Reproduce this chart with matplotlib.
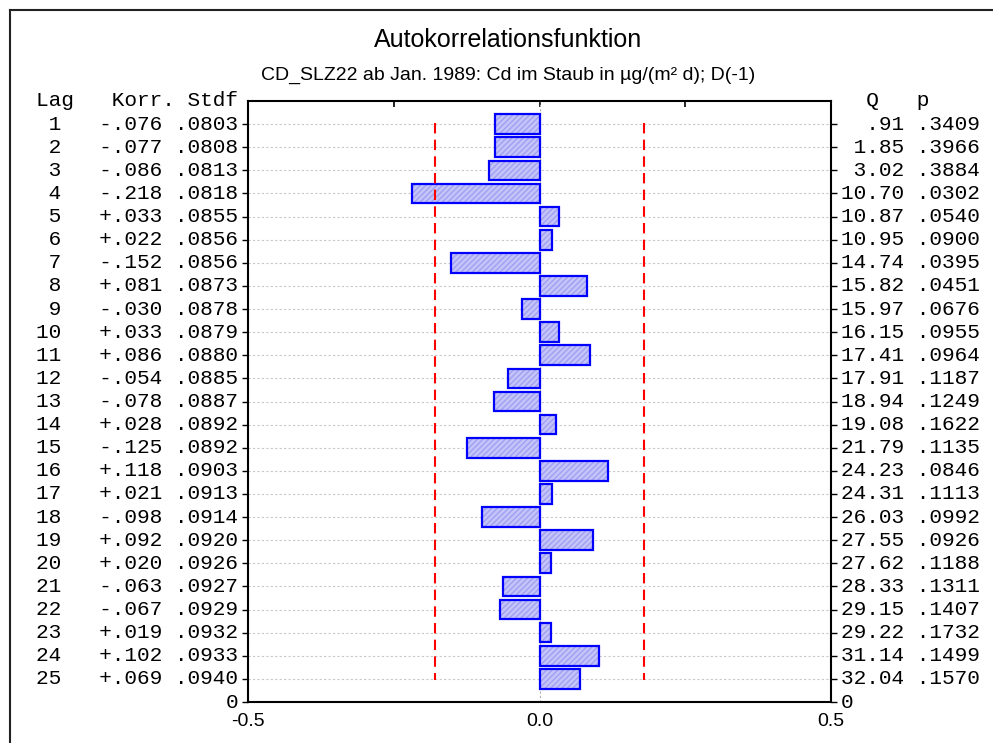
import matplotlib
matplotlib.use("Agg")
import matplotlib.pyplot as plt
from matplotlib.lines import Line2D
from matplotlib.transforms import blended_transform_factory

lags = list(range(1, 26))
korr = [-0.076, -0.077, -0.086, -0.218, 0.033, 0.022, -0.152, 0.081, -0.030, 0.033,
        0.086, -0.054, -0.078, 0.028, -0.125, 0.118, 0.021, -0.098, 0.092, 0.020,
        -0.063, -0.067, 0.019, 0.102, 0.069]
stdf = [0.0803, 0.0808, 0.0813, 0.0818, 0.0855, 0.0856, 0.0856, 0.0873, 0.0878, 0.0879,
        0.0880, 0.0885, 0.0887, 0.0892, 0.0892, 0.0903, 0.0913, 0.0914, 0.0920, 0.0926,
        0.0927, 0.0929, 0.0932, 0.0933, 0.0940]
q_vals = [0.91, 1.85, 3.02, 10.70, 10.87, 10.95, 14.74, 15.82, 15.97, 16.15,
          17.41, 17.91, 18.94, 19.08, 21.79, 24.23, 24.31, 26.03, 27.55, 27.62,
          28.33, 29.15, 29.22, 31.14, 32.04]
p_vals = [0.3409, 0.3966, 0.3884, 0.0302, 0.0540, 0.0900, 0.0395, 0.0451, 0.0676, 0.0955,
          0.0964, 0.1187, 0.1249, 0.1622, 0.1135, 0.0846, 0.1113, 0.0992, 0.0926, 0.1188,
          0.1311, 0.1407, 0.1732, 0.1499, 0.1570]
conf_limit = 0.18
x_ticks = [-0.5, 0.0, 0.5]
x_labels = ["-0.5", "0.0", "0.5"]

title = "Autokorrelationsfunktion"
subtitle = "CD_SLZ22 ab Jan. 1989: Cd im Staub in µg/(m² d); D(-1)"

W, H = 993, 743
fig = plt.figure(figsize=(W / 100, H / 100), dpi=100)
ax = fig.add_axes([248 / W, 1 - 702 / H, (831 - 248) / W, (702 - 101) / H])

mono = "Liberation Mono"
sans = ["Liberation Sans", "DejaVu Sans"]

# bars: hatched fill first, blue outline on top
ax.barh(lags, korr, height=0.85, left=0, color="#c4c4fa", edgecolor="#a0a0f0",
        hatch="//////", linewidth=0, zorder=2)
ax.barh(lags, korr, height=0.85, left=0, fill=False, edgecolor="#0000ff",
        linewidth=1.6, zorder=3)

for lim in (-conf_limit, conf_limit):
    ax.plot([lim, lim], [0.95, 25.05], color="#ff0000", linestyle=(0, (5, 3)),
            linewidth=1.5, zorder=4)

for lag in lags:
    ax.axhline(lag, color="#c8c8c8", linestyle=(0, (2, 2)), linewidth=0.8, zorder=1)
ax.axvline(0, color="#b0b0b0", linestyle=(0, (2, 2)), linewidth=0.8, zorder=1)

ax.set_xlim(-0.5, 0.5)
ax.set_ylim(26, 0)
ax.set_xticks(x_ticks)
ax.set_xticklabels(x_labels, family=sans, fontsize=14)
ax.tick_params(axis="x", bottom=True, length=0, pad=8)
ax.set_yticks(list(range(1, 27)))
ax.set_yticklabels([])
ax.tick_params(axis="y", left=True, right=True, direction="out", length=4, width=1)
for s in ax.spines.values():
    s.set_linewidth(1.5)

# small inward ticks on top spine
top = ax.secondary_xaxis("top")
top.set_xticks([-0.25, 0.0, 0.25])
top.set_xticklabels([])
top.tick_params(direction="in", length=4, width=1.2)
top.spines["top"].set_visible(False)

# left and right tables
tl = blended_transform_factory(fig.transFigure, ax.transData)
xl = 238 / W
xr = 841 / W
fs = 15.2
ax.text(xl, 0, "Lag   Korr. Stdf", transform=tl, ha="right", va="center",
        family=mono, fontsize=fs, clip_on=False)
ax.text(xr, 0, "  Q   p", transform=tl, ha="left", va="center",
        family=mono, fontsize=fs, clip_on=False)
for lag, k, s, q, p in zip(lags, korr, stdf, q_vals, p_vals):
    ks = ("-" if k < 0 else "+") + f"{abs(k):.3f}"[1:]
    ss = f"{s:.4f}"[1:]
    qs = f"{q:.2f}"
    if q < 1:
        qs = qs[1:]
    ps = f"{p:.4f}"[1:]
    ax.text(xl, lag, f"{lag:>2}   {ks} {ss}", transform=tl, ha="right", va="center",
            family=mono, fontsize=fs, clip_on=False)
    ax.text(xr, lag, f"{qs:>5} {ps}", transform=tl, ha="left", va="center",
            family=mono, fontsize=fs, clip_on=False)
ax.text(xl, 26, "0", transform=tl, ha="right", va="center", family=mono,
        fontsize=fs, clip_on=False)
ax.text(xr, 26, "0", transform=tl, ha="left", va="center", family=mono,
        fontsize=fs, clip_on=False)

fig.text(508 / W, 1 - 40 / H, title, ha="center", va="center", family=sans, fontsize=18)
fig.text(508 / W, 1 - 75 / H, subtitle, ha="center", va="center", family=sans,
         fontsize=14)

# outer frame (top and left edges)
fig.add_artist(Line2D([10 / W, 1.0], [1 - 10 / H, 1 - 10 / H], color="#222222",
                      linewidth=1.5, transform=fig.transFigure))
fig.add_artist(Line2D([10 / W, 10 / W], [0.0, 1 - 10 / H], color="#222222",
                      linewidth=1.5, transform=fig.transFigure))

fig.savefig("out.png", dpi=100)
